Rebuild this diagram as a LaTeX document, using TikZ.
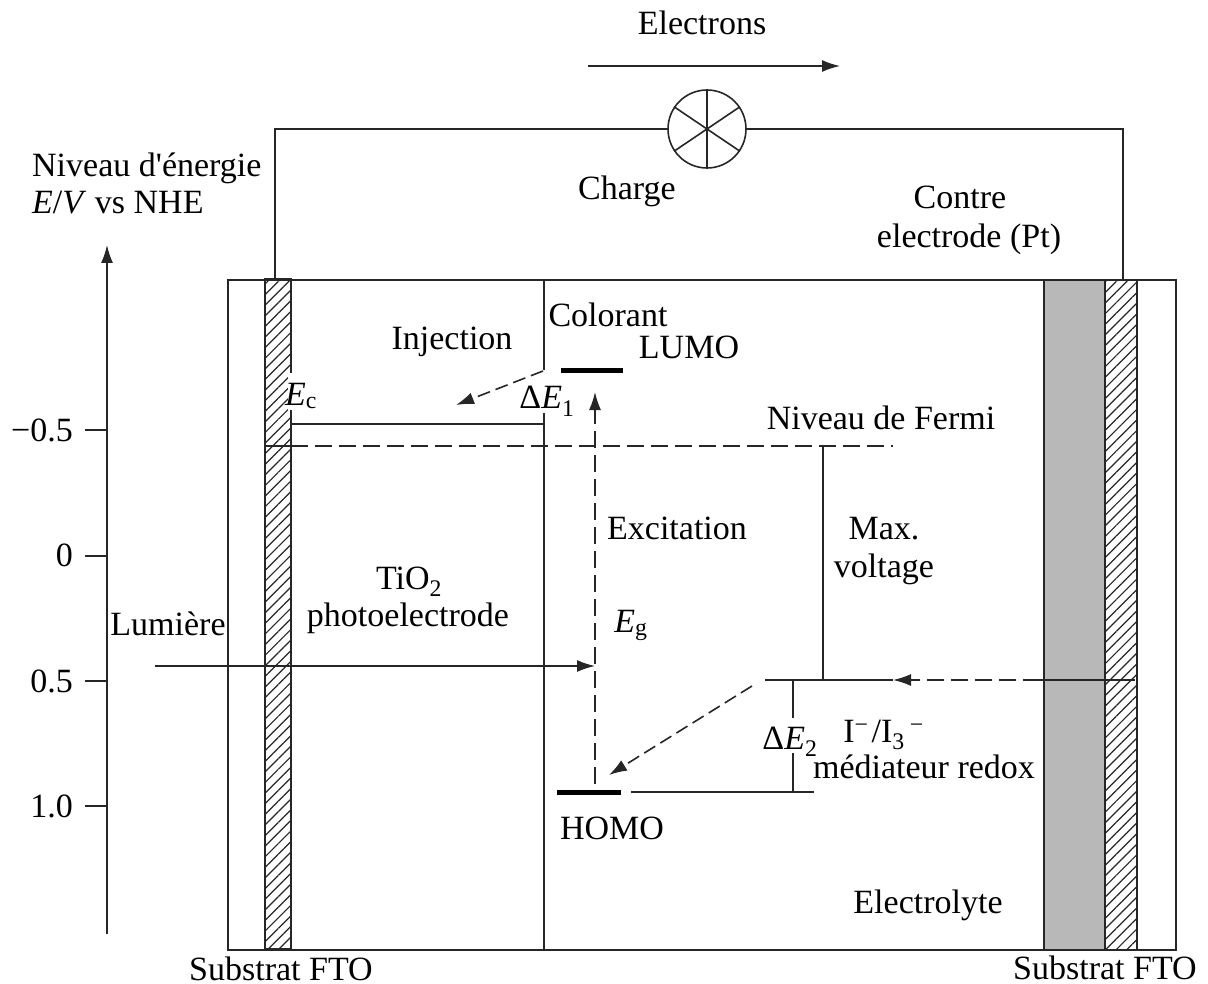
\documentclass[tikz,border=0pt]{standalone}
\usepackage{fontspec}
\setmainfont[Ligatures=TeXOff]{Liberation Serif}
\usetikzlibrary{arrows.meta,patterns.meta}
\tikzset{
 lbl/.style={inner sep=0pt,anchor=base,font=\fontsize{34}{38}\selectfont},
 ln/.style={line width=1.6pt,black!85},
 dsh/.style={ln,dash pattern=on 17pt off 7pt},
 dshb/.style={ln,dash pattern=on 13pt off 6pt},
 arr/.style={-{Latex[length=18pt,width=12pt]}},
 bar/.style={line width=5pt,black},
 hatchbox/.style={draw=black!85,line width=2pt,pattern={Lines[angle=45,distance=7.5pt,line width=1.2pt]},pattern color=black!85},
}
\begin{document}
\begin{tikzpicture}[x=1pt,y=-1pt]
\useasboundingbox (0,0) rectangle (1208,984);
% frame
\node[draw=black!85,line width=2pt,minimum width=948pt,minimum height=670pt,inner sep=0pt,anchor=north west] (cell) at (226.7,278.7) {};
\node[hatchbox,minimum width=26pt,minimum height=670pt,inner sep=0pt,anchor=north west] (ftoL) at (264.7,278.7) {};
\node[hatchbox,minimum width=32pt,minimum height=670pt,inner sep=0pt,anchor=north west] (ftoR) at (1103.7,278.7) {};
\node[draw=black!85,line width=2pt,fill=black!28,minimum width=61pt,minimum height=670pt,inner sep=0pt,anchor=north west] (pt) at (1042.7,278.7) {};
% gap in the hatched strip's edge beside E_c
\fill[white] (288,373) rectangle (293,410);
% circuit
\node[circle,draw=black!85,line width=1.6pt,minimum size=78pt,inner sep=0pt] (lamp) at (707,129) {};
\coordinate (wL0) at (275,279); \coordinate (wL1) at (275,129);
\coordinate (wR0) at (1123,279); \coordinate (wR1) at (1123,129);
\draw[ln] (wL0) -- (wL1) -- (lamp.west);
\draw[ln] (wR0) -- (wR1) -- (lamp.east);
\draw[ln] (lamp.north) -- (lamp.south);
\draw[ln] (lamp.146) -- (lamp.326);
\draw[ln] (lamp.34) -- (lamp.214);
\coordinate (e0) at (588,66); \coordinate (e1) at (840,66);
\draw[ln,arr] (e0) -- (e1);
% axis
\coordinate (ax0) at (107,934); \coordinate (ax1) at (107,245);
\draw[ln,arr] (ax0) -- (ax1);
\foreach \y/\n in {430/a,556/b,681/c,806/d}{
  \coordinate (t\n0) at (85,\y); \coordinate (t\n1) at (107,\y);
  \draw[ln] (t\n0) -- (t\n1);
}
\node[lbl,anchor=base east] (l1) at (73,441) {−0.5};
\node[lbl,anchor=base east] (l2) at (73,566) {0};
\node[lbl,anchor=base east] (l3) at (73,692) {0.5};
\node[lbl,anchor=base east] (l4) at (73,817) {1.0};
% TiO2 / dye boundary
\coordinate (d0) at (544,279); \coordinate (d1) at (544,370);
\coordinate (d2) at (544,413); \coordinate (d3) at (544,949);
\draw[ln] (d0) -- (d1);
\draw[ln] (d2) -- (d3);
% Ec level
\coordinate (ec0) at (291,424); \coordinate (ec1) at (544,424);
\draw[ln] (ec0) -- (ec1);
% Fermi
\coordinate (f0) at (265,446); \coordinate (f0b) at (291,446); \coordinate (f1) at (893,446);
\draw[ln] (f0) -- (f0b);
\draw[dsh] (f0b) -- (f1);
% LUMO / HOMO
\coordinate (lu0) at (561,371); \coordinate (lu1) at (623,371);
\draw[bar] (lu0) -- (lu1);
\coordinate (ho0) at (557,792); \coordinate (ho1) at (621,792);
\draw[bar] (ho0) -- (ho1);
\coordinate (ho2) at (631,792); \coordinate (ho3) at (814,792);
\draw[ln] (ho2) -- (ho3);
% redox
\coordinate (r0) at (765,680); \coordinate (r1) at (893,680); \coordinate (r2) at (1135,680);
\coordinate (r3) at (1040,680);
\draw[ln] (r0) -- (r1);
\draw[dsh,arr] (r3) -- (r1);
\draw[ln] (r3) -- (r2);
\coordinate (m0) at (823,446); \coordinate (m1) at (823,680);
\draw[ln] (m0) -- (m1);
\coordinate (de0) at (793,680); \coordinate (de1) at (793,718);
\coordinate (de2) at (793,753); \coordinate (de3) at (793,792);
\draw[ln] (de0) -- (de1);
\draw[ln] (de2) -- (de3);
% excitation
\coordinate (x0) at (595,784); \coordinate (x1) at (595,392);
\draw[dsh,arr] (x0) -- (x1);
% light
\coordinate (li0) at (155,666); \coordinate (li1) at (595,666);
\draw[ln,arr] (li0) -- (li1);
% injection
\coordinate (in0) at (543,371); \coordinate (in1) at (456,405);
\draw[dshb,arr] (in0) -- (in1);
% regeneration
\coordinate (g0) at (752,686); \coordinate (g1) at (609,775);
\draw[dshb,arr] (g0) -- (g1);
% labels
\node[lbl] (n1) at (702,35) {Electrons};
\node[lbl,anchor=base west] (n2) at (32,177) {Niveau d'énergie};
\node[lbl,anchor=base west] (n3) at (32,214) {\textit{E}/\textit{V} vs NHE};
\node[lbl] (n4) at (627,200) {Charge};
\node[lbl] (n5) at (960,209) {Contre};
\node[lbl] (n6) at (969,248) {electrode (Pt)};
\node[lbl] (n7) at (608,327) {Colorant};
\node[lbl] (n8) at (689,359) {LUMO};
\node[lbl] (n9) at (452,350) {Injection};
\node[lbl] (n10) at (301,405) {\textit{E}\textsubscript{c}};
\node[lbl] (n11) at (547,409) {Δ\textit{E}\textsubscript{1}};
\node[lbl] (n12) at (881,429) {Niveau de Fermi};
\node[lbl] (n13) at (677,539) {Excitation};
\node[lbl] (n14a) at (884,539) {Max.};
\node[lbl] (n14b) at (884,577) {voltage};
\node[lbl] (n15) at (409,589) {TiO\textsubscript{2}};
\node[lbl] (n16) at (408,626) {photoelectrode};
\node[lbl] (n17) at (631,632) {\textit{E}\textsubscript{g}};
\node[lbl] (n18) at (168,635) {Lumière};
\node[lbl] (n19) at (790,749) {Δ\textit{E}\textsubscript{2}};
\node[lbl] (n20) at (883.5,742) {I\textsuperscript{−}\kern3pt/I\textsubscript{3}\kern5pt\textsuperscript{−}};
\node[lbl] (n21) at (924,778) {médiateur redox};
\node[lbl] (n22) at (612,839) {HOMO};
\node[lbl] (n23) at (928,913) {Electrolyte};
\node[lbl] (n24) at (281,980) {Substrat FTO};
\node[lbl] (n25) at (1105,979) {Substrat FTO};
\end{tikzpicture}
\end{document}
